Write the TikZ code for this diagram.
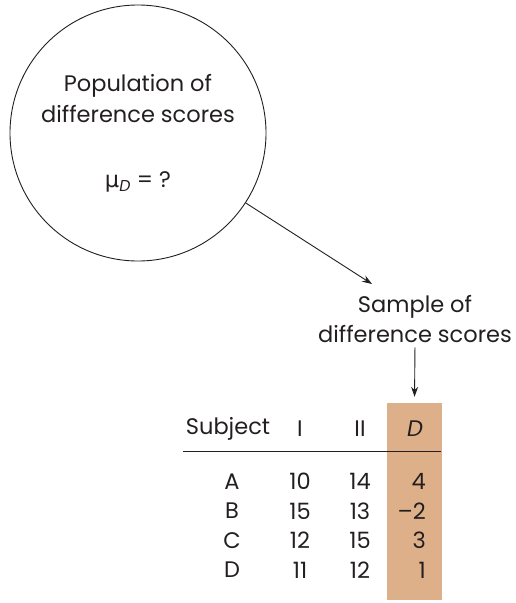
\documentclass[tikz,border=0pt]{standalone}
\usepackage{fontspec}
\setmainfont{Poppins}
\newfontfamily\greekfont{DejaVu Sans}
\usepackage{xcolor}
\definecolor{dshade}{RGB}{221,176,138}
\definecolor{inkgrey}{RGB}{35,31,32}
\usetikzlibrary{arrows.meta,positioning}

\begin{document}
\begin{tikzpicture}[
    x=1pt, y=-1pt,
    every node/.style={font=\fontsize{22.5}{31}\selectfont, text=inkgrey, inner sep=0pt},
    cell/.style={anchor=center},
    link/.style={-{Stealth[length=10pt,width=7pt]}, draw=inkgrey, line width=0.9pt}
]
\useasboundingbox (0,0) rectangle (515,603);

% Population circle
\node (pop) [draw=inkgrey, line width=0.9pt, circle, minimum size=256pt] at (138,133) {};
\node (poptitle) [align=center] at (138,99) {Population of\\difference scores};
\node (popmean) at (138,182) {{\greekfont μ}\textsubscript{\textit{D}} = ?};

% Sample label
\node (samp) [align=center] at (415,319) {Sample of\\difference scores};
\coordinate (tipA) at (372,284);

% Shaded D column
\node (dcol) [fill=dshade, minimum width=55pt, minimum height=197pt] at (414.5,501.5) {};

% Relationships
\draw [link] (pop.-33) -- (tipA);
\draw [link, shorten >=6pt, shorten <=4pt] (samp.south) -- (dcol.north);

% Table header
\node (hsub) [cell] at (228,429) {Subject};
\node (hone) [cell] at (300,429) {I};
\node (htwo) [cell] at (360,429) {II};
\node (hd) [cell] at (415,429) {\textit{D}};
\coordinate (ruleL) at (183,451);
\coordinate (ruleR) at (441,451);
\draw [inkgrey, line width=0.9pt] (ruleL) -- (ruleR);

% Table rows
\foreach \s/\a/\b/\d [count=\i] in {A/10/14/4, B/15/13/–2, C/12/15/3, D/11/12/1}{
  \node (sub\i) [cell] at (232,452+29.5*\i) {\s};
  \node (one\i) [cell] at (300,452+29.5*\i) {\a};
  \node (two\i) [cell] at (360,452+29.5*\i) {\b};
  \node (dif\i) [anchor=east] at (426,452+29.5*\i) {\d};
}
\end{tikzpicture}
\end{document}
